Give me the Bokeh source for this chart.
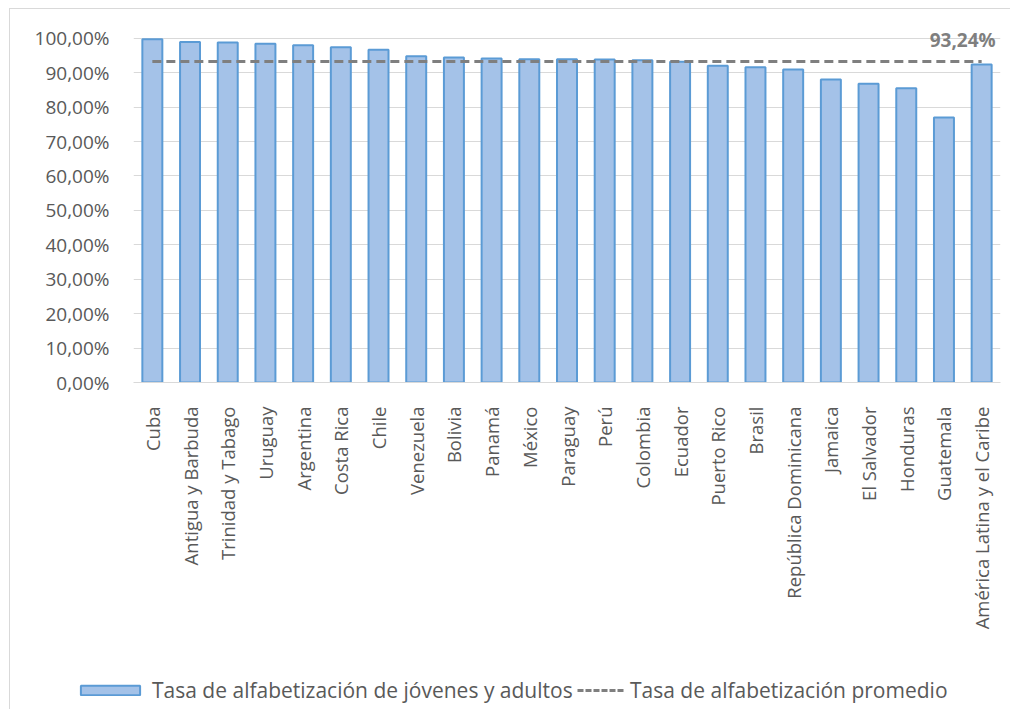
import math
from bokeh.plotting import figure
from bokeh.layouts import column
from bokeh.models import ColumnDataSource, Legend, LegendItem, FixedTicker, Range1d, FactorRange
from bokeh.core.properties import value
from bokeh.embed import file_html
from bokeh.resources import INLINE

countries = ["Cuba", "Antigua y Barbuda", "Trinidad y Tabago", "Uruguay", "Argentina",
             "Costa Rica", "Chile", "Venezuela", "Bolivia", "Panamá", "México", "Paraguay",
             "Perú", "Colombia", "Ecuador", "Puerto Rico", "Brasil", "República Dominicana",
             "Jamaica", "El Salvador", "Honduras", "Guatemala", "América Latina y el Caribe"]
rates = [99.7, 98.9, 98.8, 98.4, 98.0, 97.4, 96.7, 94.8, 94.4, 94.1, 93.9, 93.9,
         93.8, 93.6, 93.2, 92.0, 91.6, 90.9, 88.0, 86.8, 85.5, 77.0, 92.4]
average = 93.24
average_label = "93,24%"
y_ticks = [0, 10, 20, 30, 40, 50, 60, 70, 80, 90, 100]
y_tick_labels = ["0,00%", "10,00%", "20,00%", "30,00%", "40,00%", "50,00%",
                 "60,00%", "70,00%", "80,00%", "90,00%", "100,00%"]
bar_name = "Tasa de alfabetización de jóvenes y adultos"
line_name = "Tasa de alfabetización promedio"

FONT = "Open Sans"
GRAY = "#595959"
BAR_FILL = "#a4c2e8"
BAR_LINE = "#5b9bd5"
AVG_COLOR = "#7f7f7f"

p = figure(x_range=FactorRange(*countries, range_padding=0), y_range=Range1d(0, 104),
           width=1000, height=630, output_backend="svg", toolbar_location=None,
           min_border_left=123, min_border_right=10, min_border_top=15, min_border_bottom=257)
p.outline_line_color = None
p.background_fill_color = "white"

src = ColumnDataSource(dict(x=countries, y=rates))
p.vbar(x="x", top="y", width=0.53, source=src,
       fill_color=BAR_FILL, line_color=BAR_LINE, line_width=2)

avg_src = ColumnDataSource(dict(x=[countries[0], countries[-1]], y=[average, average]))
p.line(x="x", y="y", source=avg_src, line_color=AVG_COLOR, line_width=3, line_dash="9 5")

lbl_src = ColumnDataSource(dict(x=[countries[-1]], y=[average], t=[average_label]))
p.text(x="x", y="y", text="t", source=lbl_src, text_align="right", text_baseline="bottom",
       x_offset=14, y_offset=-9, text_font=value(FONT), text_font_style="bold",
       text_font_size="19px", text_color=AVG_COLOR)

p.yaxis.ticker = FixedTicker(ticks=y_ticks)
p.yaxis.major_label_overrides = {t: l for t, l in zip(y_ticks, y_tick_labels)}
p.yaxis.axis_line_color = None
p.yaxis.major_tick_line_color = None
p.yaxis.minor_tick_line_color = None
p.yaxis.major_label_standoff = 18
p.yaxis.major_label_text_font = FONT
p.yaxis.major_label_text_font_size = "19px"
p.yaxis.major_label_text_color = GRAY

p.xaxis.axis_line_color = "#d9d9d9"
p.xaxis.axis_line_width = 1
p.xaxis.major_tick_line_color = None
p.xaxis.minor_tick_line_color = None
p.xaxis.major_label_orientation = math.pi / 2
p.xaxis.major_label_standoff = 18
p.xaxis.major_label_text_font = FONT
p.xaxis.major_label_text_font_size = "18.5px"
p.xaxis.major_label_text_color = GRAY

p.xgrid.grid_line_color = None
p.ygrid.grid_line_color = "#d9d9d9"
p.ygrid.grid_line_width = 1

# legend strip: hidden copies of the renderers serve only as legend swatches
lf = figure(width=1000, height=70, output_backend="svg", toolbar_location=None,
            x_range=p.x_range, y_range=Range1d(200, 300),
            x_axis_location=None, y_axis_location=None,
            min_border_left=0, min_border_right=0, min_border_top=0, min_border_bottom=0)
if "frame_align" in lf.properties():
    lf.frame_align = False
lf.outline_line_color = None
lf.xgrid.grid_line_color = None
lf.ygrid.grid_line_color = None
sw_bar = lf.vbar(x="x", top="y", width=0.53, source=src,
                 fill_color=BAR_FILL, line_color=BAR_LINE, line_width=2)
sw_line = lf.line(x="x", y="y", source=avg_src, line_color=AVG_COLOR, line_width=3,
                  line_dash="6 2")
sw_bar.visible = False
sw_line.visible = False

common = dict(orientation="horizontal", glyph_height=12, label_standoff=5, padding=0,
              margin=0, border_line_color=None, background_fill_alpha=0,
              label_text_font=FONT, label_text_font_size="21px", label_text_color=GRAY)
leg1 = Legend(items=[LegendItem(label=bar_name, renderers=[sw_bar])],
              location=(63, 5), glyph_width=74, **common)
leg2 = Legend(items=[LegendItem(label=line_name, renderers=[sw_line])],
              location=(567, 5), glyph_width=48, **common)
lf.add_layout(leg1, "center")
lf.add_layout(leg2, "center")

layout = column(p, lf, spacing=0)
layout.styles = {"border-left": "1px solid #d9d9d9", "border-top": "1px solid #d9d9d9",
                 "margin-left": "9px", "margin-top": "8px"}

open("out.html", "w").write(file_html(layout, INLINE))
